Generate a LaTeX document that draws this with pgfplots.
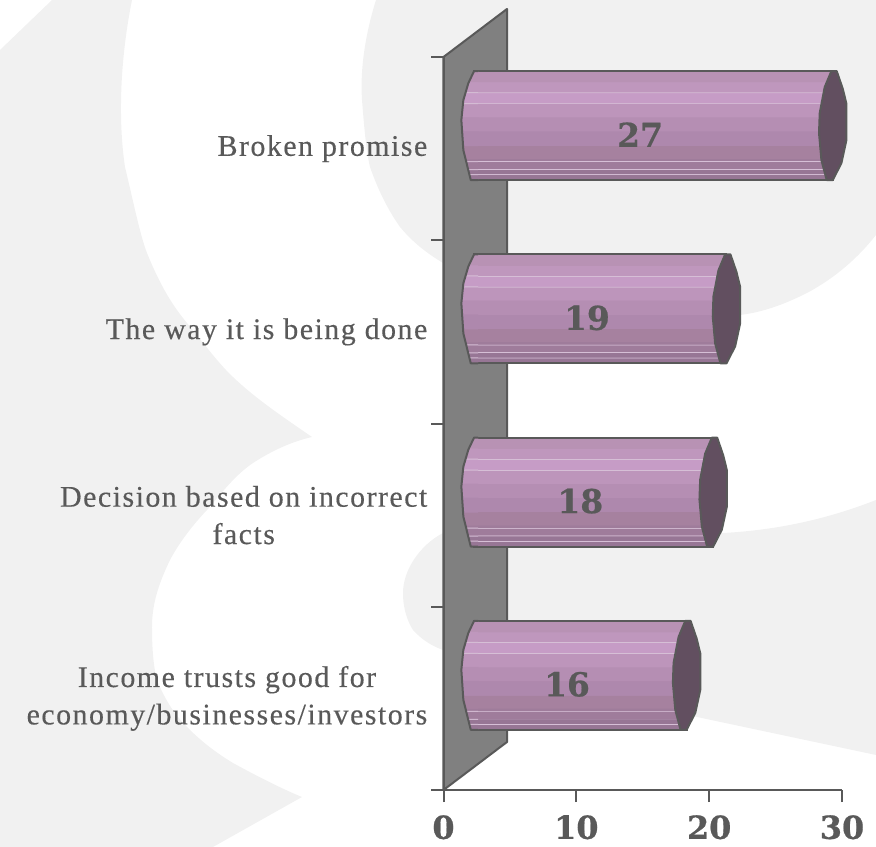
\documentclass[border=0pt]{standalone}
\usepackage{fontspec}
\usepackage{pgfplots}
\usepackage{pgfplotstable}
\pgfplotsset{compat=1.18}
\newfontfamily\labfont[LetterSpace=5,FakeBold=0.35]{Liberation Serif}
\newfontfamily\numfont[FakeBold=0.6]{DejaVu Serif Bold}
\definecolor{ink}{HTML}{595959}
\definecolor{blob}{HTML}{F1F1F1}
\definecolor{wall}{HTML}{808080}
\definecolor{capc}{HTML}{624F60}
\definecolor{ba}{HTML}{977695}
\definecolor{bb}{HTML}{9F7C9B}
\definecolor{bc}{HTML}{A6819F}
\definecolor{bd}{HTML}{AE88AD}
\definecolor{be}{HTML}{B58EB3}
\definecolor{bf}{HTML}{BD95BB}
\definecolor{bg}{HTML}{C69CC6}
\definecolor{bh}{HTML}{BF97BD}
\definecolor{bi}{HTML}{B892B4}
\definecolor{bl}{HTML}{D6BFD6}
% positions: 25bp = bottom of the bar, 75bp = top
\pgfdeclareverticalshading{barbands}{100bp}{
 color(0bp)=(ba); color(27.5bp)=(ba);
 color(27.51bp)=(bl); color(27.9bp)=(bl);
 color(27.91bp)=(ba); color(30bp)=(ba);
 color(30.01bp)=(bl); color(30.4bp)=(bl);
 color(30.41bp)=(bb); color(33.5bp)=(bb);
 color(33.51bp)=(bl); color(33.9bp)=(bl);
 color(33.91bp)=(bb); color(35bp)=(bb);
 color(35.01bp)=(bc); color(41bp)=(bc);
 color(41.01bp)=(bd); color(47.5bp)=(bd);
 color(47.51bp)=(be); color(54bp)=(be);
 color(54.01bp)=(bf); color(60bp)=(bf);
 color(60.01bp)=(bl); color(60.4bp)=(bl);
 color(60.41bp)=(bg); color(65bp)=(bg);
 color(65.01bp)=(bl); color(65.4bp)=(bl);
 color(65.41bp)=(bh); color(70bp)=(bh);
 color(70.01bp)=(bi); color(100bp)=(bi)}
% cap outlines: the bar axis runs 23bp above the category position
\pgfdeclareplotmark{rcap}{
 \filldraw[fill=capc,draw=ink,line width=2bp,line join=round,x=1bp,y=-1bp]
 (4,-77.5)--(10,-60)--(13.7,-45)--(13.7,-8.5)--(8.7,14.5)--(0,31.5)--(-6,31.5)--(-11.3,11.5)
 --(-13.7,-15.5)--(-13,-35.5)--(-8,-61.5)--(-1.3,-77.5)--cycle;}
\pgfdeclareplotmark{lcap}{
 \path[draw=none,shade,shading=barbands,x=1bp,y=-1bp]
 (4,-77.5)--(0,-77.5)--(-5.7,-65.5)--(-10.7,-48.5)--(-12.7,-28.5)--(-10.7,1.5)--(-3.3,31.5)--(4,31.5)--cycle;
 \draw[draw=ink,line width=2bp,line join=round,x=1bp,y=-1bp]
 (4,-77.5)--(0,-77.5)--(-5.7,-65.5)--(-10.7,-48.5)--(-12.7,-28.5)--(-10.7,1.5)--(-3.3,31.5)--(4,31.5);}
\pgfplotstableread{
cat value offset
0.5 16 2.3
}\tabA
\pgfplotstableread{
cat value offset
1.5 18 2.3
}\tabB
\pgfplotstableread{
cat value offset
2.5 19 2.3
}\tabC
\pgfplotstableread{
cat value offset
3.5 27 2.3
}\tabD
\pgfplotsset{base/.style={
 at={(0,0)},anchor=south west,
 scale only axis,width=398.5bp,height=733bp,
 xmin=0,xmax=30,ymin=0,ymax=4,
 clip=false,
 /pgf/number format/assume math mode=true,
 stack plots=x}}
\newcommand{\cylinder}[1]{%
\addplot[xbar,bar width=109bp,bar shift=23bp,draw=none,fill=none] table[x=offset,y=cat]{#1};
\addplot[xbar,bar width=109bp,bar shift=23bp,draw=ink,line width=2bp,shade,shading=barbands] table[x=value,y=cat]{#1};
\addplot[stack plots=false,only marks,mark=rcap] table[x expr=\thisrow{value}+\thisrow{offset},y=cat]{#1};
\addplot[stack plots=false,only marks,mark=lcap] table[x=offset,y=cat]{#1};
\addplot[stack plots=false,draw=none,mark=none,
 point meta=\thisrow{value},
 nodes near coords,
 nodes near coords style={anchor=center,yshift=14bp,text=ink,font=\numfont\fontsize{33}{33}\selectfont,/pgf/number format/assume math mode=true}]
 table[x expr=\thisrow{value}/2+1.3,y=cat]{#1};}
\begin{document}
\begin{tikzpicture}
\begin{scope}[x=1bp,y=-1bp,shift={(-443.5bp,790bp)}]
\useasboundingbox (0,0) rectangle (876,847);
\fill[blob] (0,50)--(52,0)--(132,0)
 .. controls (120,60) and (118,120) .. (125,167)
 .. controls (133,200) and (140,235) .. (147,253)
 .. controls (160,285) and (172,305) .. (187,323)
 .. controls (205,345) and (220,365) .. (233,377)
 .. controls (255,398) and (280,415) .. (312,437)
 .. controls (290,442) and (270,452) .. (253,463)
 .. controls (235,475) and (220,495) .. (207,510)
 .. controls (190,528) and (178,545) .. (170,560)
 .. controls (158,585) and (152,605) .. (152,627)
 .. controls (152,645) and (153,665) .. (157,680)
 .. controls (165,700) and (175,715) .. (187,727)
 .. controls (205,745) and (220,755) .. (233,763)
 .. controls (255,775) and (280,788) .. (302,797)
 --(213,847)--(0,847)--cycle;
\fill[blob] (376,0)
 .. controls (365,35) and (360,70) .. (362,100)
 .. controls (364,125) and (366,150) .. (370,167)
 .. controls (378,190) and (388,210) .. (400,227)
 .. controls (415,245) and (430,255) .. (443,263)
 .. controls (530,310) and (650,330) .. (740,315)
 .. controls (765,312) and (787,303) .. (807,293)
 .. controls (835,278) and (858,258) .. (876,235)
 --(876,0)--cycle;
\fill[blob] (876,500)
 .. controls (830,518) and (780,530) .. (723,533)
 .. controls (640,537) and (520,520) .. (443,533)
 .. controls (420,545) and (403,570) .. (403,593)
 .. controls (403,610) and (408,622) .. (413,630)
 .. controls (422,640) and (432,646) .. (443,650)
 --(697,717)--(876,755)--cycle;
\filldraw[fill=wall,draw=ink,line width=2bp,line join=round]
 (443.5,57)--(507,9)--(507,742)--(443.5,790)--cycle;
\end{scope}
\begin{axis}[base,
 axis x line=bottom,axis y line=left,
 axis line style={draw=ink,line width=2bp,-},
 every tick/.style={draw=ink,line width=2bp},
 tick align=outside,major tick length=12bp,
 xtick={0,10,20,30},
 ytick={0,1,2,3,4},yticklabels={},
 extra y ticks={0.5,1.5,2.5,3.5},
 extra y tick labels={{Income trusts good for\\economy/businesses/investors},{Decision based on incorrect\\facts},{The way it is being done},{Broken promise}},
 extra y tick style={major tick length=0pt,
   yticklabel style={align=center,anchor=east,inner sep=0pt,xshift=-16bp,text=ink,
   font=\labfont\fontsize{30}{37.5}\selectfont}},
 xticklabel style={text=ink,font=\numfont\fontsize{32}{32}\selectfont,inner sep=0pt,yshift=-13bp},
]
\cylinder{\tabA}
\end{axis}
\begin{axis}[base,hide axis]
\cylinder{\tabB}
\end{axis}
\begin{axis}[base,hide axis]
\cylinder{\tabC}
\end{axis}
\begin{axis}[base,hide axis]
\cylinder{\tabD}
\end{axis}
\end{tikzpicture}
\end{document}
